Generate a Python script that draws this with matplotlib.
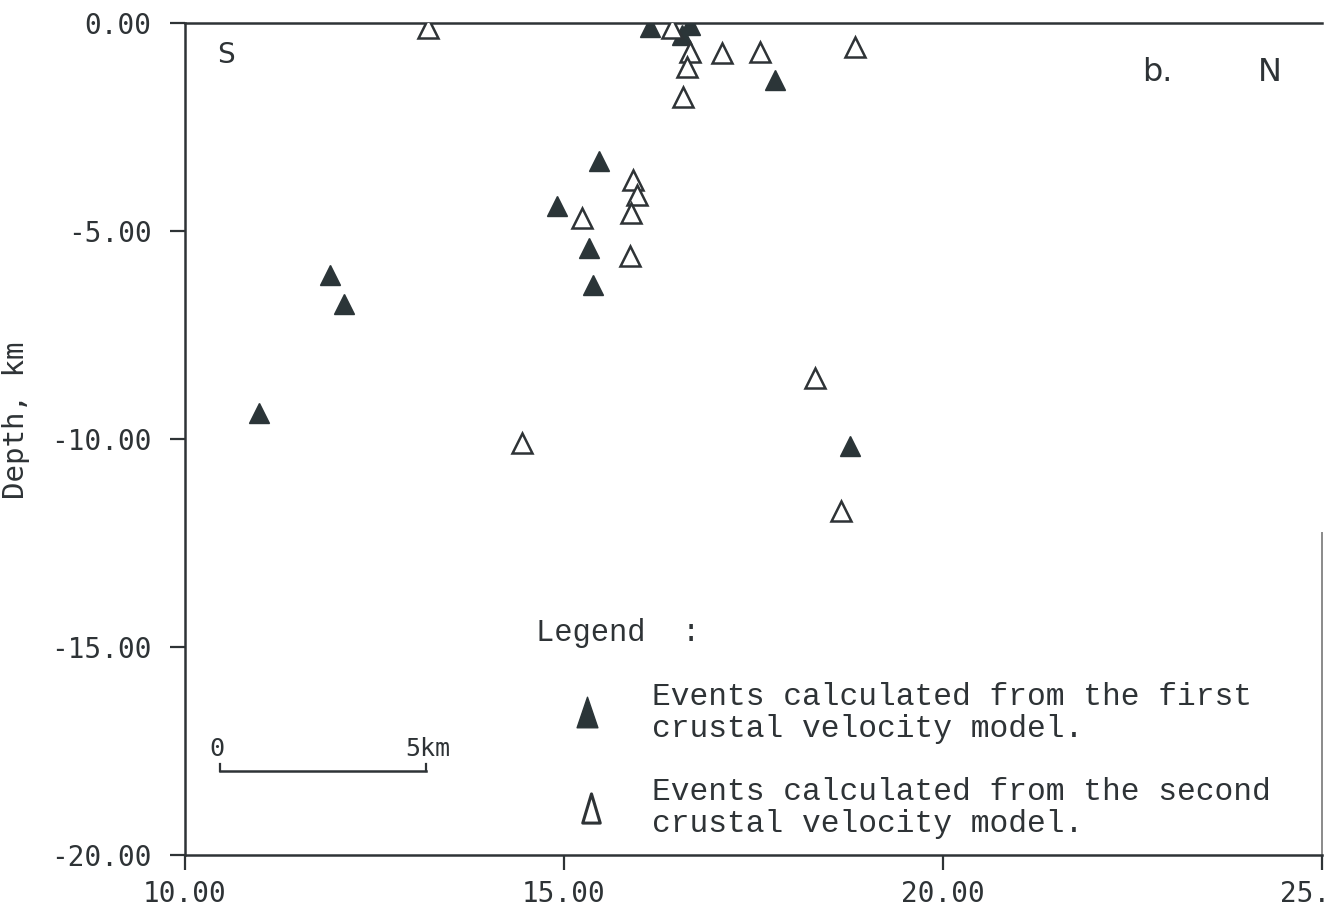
import matplotlib
matplotlib.use("Agg")
import matplotlib.pyplot as plt
from matplotlib.ticker import FormatStrFormatter
from matplotlib.path import Path

# Events from the first crustal velocity model (filled triangles)
first_x = [16.13, 16.66, 16.56, 17.78, 15.46, 14.91, 15.33, 15.38, 11.91, 12.10, 10.98, 18.77]
first_depth = [-0.10, -0.05, -0.30, -1.37, -3.32, -4.40, -5.41, -6.30, -6.06, -6.75, -9.38, -10.17]

# Events from the second crustal velocity model (open triangles)
second_x = [13.21, 16.42, 16.66, 16.62, 16.57, 17.08, 17.59, 18.84, 15.91, 15.96, 15.88,
            15.24, 15.87, 14.45, 18.31, 18.65]
second_depth = [-0.12, -0.12, -0.70, -1.05, -1.78, -0.72, -0.69, -0.57, -3.77, -4.13, -4.57,
                -4.69, -5.60, -10.10, -8.53, -11.73]

x_ticks = [10, 15, 20, 25]
y_ticks = [0, -5, -10, -15, -20]

ink = "#2e3336"
fill = "#2b3538"
mono = "DejaVu Sans Mono"

fig = plt.figure(figsize=(13.3, 9.07), dpi=100)
ax = fig.add_axes([185 / 1330, 1 - 855 / 907, 1137 / 1330, 832 / 907])

ax.plot(first_x, first_depth, linestyle="none", marker="^", markersize=14,
        markerfacecolor=fill, markeredgecolor=fill, markeredgewidth=1.0, zorder=3)
ax.plot(second_x, second_depth, linestyle="none", marker="^", markersize=14,
        markerfacecolor="white", markeredgecolor=ink, markeredgewidth=1.8, zorder=3)

ax.set_xlim(10, 25)
ax.set_ylim(-20, 0)
ax.set_xticks(x_ticks)
ax.set_yticks(y_ticks)
ax.xaxis.set_major_formatter(FormatStrFormatter("%.2f"))
ax.yaxis.set_major_formatter(FormatStrFormatter("%.2f"))
ax.tick_params(axis="both", direction="out", length=11, width=1.6, colors=ink,
               labelsize=20, labelcolor=ink)
ax.tick_params(axis="y", pad=13)
ax.tick_params(axis="x", pad=7)
for lab in ax.get_xticklabels() + ax.get_yticklabels():
    lab.set_fontfamily(mono)

for side in ["left", "bottom", "top"]:
    ax.spines[side].set_color(ink)
    ax.spines[side].set_linewidth(1.8)
ax.spines["right"].set_visible(False)
# faint partial right edge line seen in the reference
ax.axvline(25, ymin=0, ymax=0.387, color="#8a8a8a", linewidth=1.4, clip_on=False)

ax.set_ylabel("Depth, km", fontsize=21, family=mono, color=ink)
ax.yaxis.set_label_coords(-0.136, 0.522)

# Corner annotations
ax.text(0.0361, 0.9615, "S", transform=ax.transAxes, fontsize=20, color=ink,
        ha="center", va="center", family="DejaVu Sans")
ax.text(0.855, 0.941, "b.", transform=ax.transAxes, fontsize=23, color=ink,
        ha="center", va="center", family="DejaVu Sans")
ax.text(0.954, 0.941, "N", transform=ax.transAxes, fontsize=23, color=ink,
        ha="center", va="center", family="DejaVu Sans")

# Scale bar
ax.plot([0.0308, 0.2120], [0.101, 0.101], transform=ax.transAxes, color=ink, lw=1.8)
ax.plot([0.0308, 0.0308], [0.101, 0.1094], transform=ax.transAxes, color=ink, lw=1.6)
ax.plot([0.2120, 0.2120], [0.101, 0.1094], transform=ax.transAxes, color=ink, lw=1.6)
ax.text(0.0281, 0.127, "0", transform=ax.transAxes, fontsize=18, family=mono,
        color=ink, ha="center", va="center")
ax.text(0.194, 0.127, "5km", transform=ax.transAxes, fontsize=18, family=mono,
        color=ink, ha="left", va="center")

# Legend block
leg_font = "Liberation Mono"
tri_filled = Path([(-0.68, -1), (0.68, -1), (0, 1), (-0.68, -1)], closed=True)
tri_open = Path([(-0.6, -1), (0.6, -1), (0, 1), (-0.6, -1)], closed=True)
ax.text(0.3087, 0.2668, "Legend  :", transform=ax.transAxes, fontsize=22,
        family=leg_font, color=ink, ha="left", va="center")
ax.plot([0.3536], [0.1719], transform=ax.transAxes, marker=tri_filled,
        markersize=22, color=fill, linestyle="none")
ax.plot([0.3571], [0.0565], transform=ax.transAxes, marker=tri_open,
        markersize=21, markerfacecolor="white", markeredgecolor=ink,
        markeredgewidth=2.2, linestyle="none")
ax.text(0.4107, 0.1707, "Events calculated from the first\ncrustal velocity model.",
        transform=ax.transAxes, fontsize=22.5, family=leg_font, color=ink,
        ha="left", va="center", linespacing=1.05)
ax.text(0.4107, 0.0565, "Events calculated from the second\ncrustal velocity model.",
        transform=ax.transAxes, fontsize=22.5, family=leg_font, color=ink,
        ha="left", va="center", linespacing=1.05)

fig.savefig("out.png", dpi=100)
